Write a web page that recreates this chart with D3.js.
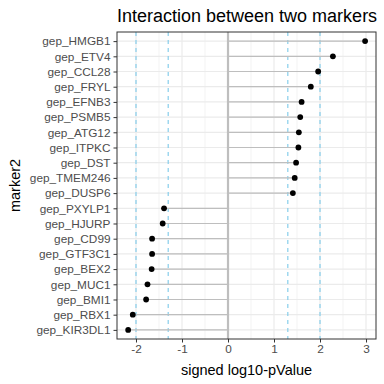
<!DOCTYPE html>
<meta charset="utf-8">
<title>Interaction between two markers</title>
<style>
body { margin: 0; background: #fff; }
text { font-family: "Liberation Sans", Arial, sans-serif; }
</style>
<script src="https://d3js.org/d3.v7.min.js"></script>
<body>
<script>
var markers = ["gep_HMGB1", "gep_ETV4", "gep_CCL28", "gep_FRYL", "gep_EFNB3", "gep_PSMB5",
  "gep_ATG12", "gep_ITPKC", "gep_DST", "gep_TMEM246", "gep_DUSP6", "gep_PXYLP1", "gep_HJURP",
  "gep_CD99", "gep_GTF3C1", "gep_BEX2", "gep_MUC1", "gep_BMI1", "gep_RBX1", "gep_KIR3DL1"];
var pvals = [2.98, 2.28, 1.96, 1.80, 1.60, 1.57, 1.54, 1.53, 1.48, 1.45, 1.41,
  -1.39, -1.42, -1.65, -1.65, -1.66, -1.75, -1.78, -2.07, -2.17];
var cutoffs = [-2, -1.3, 1.3, 2];
var xTicks = [-2, -1, 0, 1, 2, 3];
var xMinor = [-1.5, -0.5, 0.5, 1.5, 2.5];

var width = 384, height = 384;
var pLeft = 117, pRight = 376, pTop = 32, pBottom = 339;

var svg = d3.select("body").append("svg")
    .attr("width", width)
    .attr("height", height);

var x = d3.scaleLinear().domain([-2.413, 3.217]).range([pLeft, pRight]);
var y = d3.scalePoint().domain(markers).range([pTop, pBottom]).padding(0.6);

// grid
svg.append("g").selectAll("line").data(xMinor).enter().append("line")
    .attr("x1", d => x(d)).attr("x2", d => x(d))
    .attr("y1", pTop).attr("y2", pBottom)
    .attr("stroke", "#f0f0f0").attr("stroke-width", 0.8);
svg.append("g").selectAll("line").data(xTicks).enter().append("line")
    .attr("x1", d => x(d)).attr("x2", d => x(d))
    .attr("y1", pTop).attr("y2", pBottom)
    .attr("stroke", "#ebebeb").attr("stroke-width", 1.2);
svg.append("g").selectAll("line").data(markers).enter().append("line")
    .attr("x1", pLeft).attr("x2", pRight)
    .attr("y1", d => y(d)).attr("y2", d => y(d))
    .attr("stroke", "#ebebeb").attr("stroke-width", 1.2);

// cutoff lines
svg.append("g").selectAll("line").data(cutoffs).enter().append("line")
    .attr("x1", d => x(d)).attr("x2", d => x(d))
    .attr("y1", pTop).attr("y2", pBottom)
    .attr("stroke", "#87ceeb").attr("stroke-width", 1.2)
    .attr("stroke-dasharray", "4,4");

// zero line
svg.append("line")
    .attr("x1", x(0)).attr("x2", x(0))
    .attr("y1", pTop).attr("y2", pBottom)
    .attr("stroke", "#bebebe").attr("stroke-width", 2.2);

// lollipops
svg.append("g").selectAll("line").data(markers).enter().append("line")
    .attr("x1", x(0)).attr("x2", (d, i) => x(pvals[i]))
    .attr("y1", d => y(d)).attr("y2", d => y(d))
    .attr("stroke", "#bebebe").attr("stroke-width", 1.2);
svg.append("g").selectAll("circle").data(markers).enter().append("circle")
    .attr("cx", (d, i) => x(pvals[i])).attr("cy", d => y(d))
    .attr("r", 2.9).attr("fill", "#000");

// border
svg.append("rect")
    .attr("x", pLeft).attr("y", pTop)
    .attr("width", pRight - pLeft).attr("height", pBottom - pTop)
    .attr("fill", "none").attr("stroke", "#333").attr("stroke-width", 1);

// axes
var xAxis = svg.append("g")
    .attr("transform", "translate(0," + pBottom + ")")
    .call(d3.axisBottom(x).tickValues(xTicks).tickSize(3.5).tickPadding(2).tickFormat(d3.format("d")));
var yAxis = svg.append("g")
    .attr("transform", "translate(" + pLeft + ",0)")
    .call(d3.axisLeft(y).tickSize(3.5).tickPadding(3));
[xAxis, yAxis].forEach(function(g) {
  g.select(".domain").remove();
  g.selectAll(".tick line").attr("stroke", "#333").attr("stroke-width", 1);
  g.selectAll(".tick text").attr("fill", "#4d4d4d").style("font-size", "11.8px")
    .style("font-family", "Liberation Sans, Arial, sans-serif");
});
xAxis.selectAll(".tick text").text(d => d < 0 ? "-" + Math.abs(d) : d);

svg.append("text")
    .attr("x", (pLeft + pRight) / 2).attr("y", 375)
    .attr("text-anchor", "middle")
    .style("font-size", "14.5px")
    .text("signed log10-pValue");
svg.append("text")
    .attr("transform", "translate(20," + ((pTop + pBottom) / 2) + ") rotate(-90)")
    .attr("text-anchor", "middle")
    .style("font-size", "14.5px")
    .text("marker2");
svg.append("text")
    .attr("x", pLeft).attr("y", 22)
    .style("font-size", "18px")
    .text("Interaction between two markers");
</script>
